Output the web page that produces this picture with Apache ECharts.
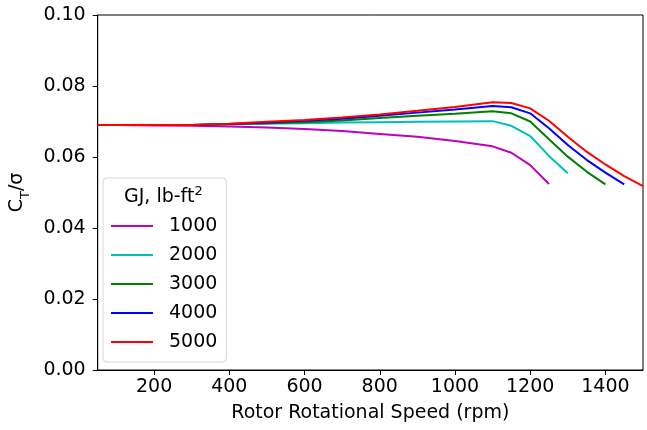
<!DOCTYPE html>
<html lang="en">
<head>
    <meta charset="UTF-8">
    <title>Thrust coefficient vs rotor speed</title>
    <style>
        body { margin: 0; background: #fff; }
        #chart { width: 647px; height: 430px; }
    </style>
</head>
<body>
    <div id="chart"></div>
    <script src="https://cdn.jsdelivr.net/npm/echarts@6/dist/echarts.min.js"></script>
    <script>
        // rotor speed (rpm) and C_T/sigma
        var rpm = [50, 100, 200, 300, 400, 500, 600, 700, 800, 900, 1000, 1100, 1150, 1200, 1250, 1300, 1350, 1400, 1450, 1500];

        var gj1000 = [0.0690, 0.0690, 0.0689, 0.0688, 0.0686, 0.0683, 0.0679, 0.0673, 0.0665, 0.0657, 0.0645, 0.0630, 0.0612, 0.0577, 0.0524];
        var gj2000 = [0.0690, 0.0690, 0.0690, 0.0690, 0.0692, 0.0694, 0.0695, 0.0697, 0.0698, 0.0699, 0.0700, 0.0701, 0.0688, 0.0659, 0.0603, 0.0554];
        var gj3000 = [0.0690, 0.0690, 0.0690, 0.0690, 0.0692, 0.0695, 0.0698, 0.0703, 0.0710, 0.0716, 0.0722, 0.0729, 0.0723, 0.0700, 0.0650, 0.0601, 0.0559, 0.0523];
        var gj4000 = [0.0690, 0.0690, 0.0690, 0.0690, 0.0693, 0.0697, 0.0702, 0.0708, 0.0716, 0.0725, 0.0734, 0.0744, 0.0740, 0.0723, 0.0681, 0.0634, 0.0592, 0.0556, 0.0523];
        var gj5000 = [0.0690, 0.0690, 0.0690, 0.0690, 0.0694, 0.0699, 0.0704, 0.0711, 0.0720, 0.0730, 0.0741, 0.0754, 0.0752, 0.0737, 0.0702, 0.0657, 0.0615, 0.0579, 0.0546, 0.0518];

        var xTicks = [200, 400, 600, 800, 1000, 1200, 1400];
        var names = ['1000', '2000', '3000', '4000', '5000'];
        var colors = ['#bf00bf', '#00bfbf', '#008000', '#0000ff', '#ff0000'];
        var values = [gj1000, gj2000, gj3000, gj4000, gj5000];

        var font = 'DejaVu Sans';
        var fs = 19;

        function pairs(ys) {
            var out = [];
            for (var i = 0; i < ys.length; i++) {
                out.push([rpm[i], ys[i]]);
            }
            return out;
        }

        var series = names.map(function(n, i) {
            return {
                name: n,
                type: 'line',
                data: pairs(values[i]),
                showSymbol: false,
                lineStyle: { color: colors[i], width: 2 },
                itemStyle: { color: colors[i] },
                z: 2 + i
            };
        });

        var chart = echarts.init(document.getElementById('chart'));

        var option = {
            animation: false,
            backgroundColor: '#fff',
            grid: {
                left: 94,
                right: 4,
                top: 15,
                bottom: 60,
                show: true,
                borderColor: '#000',
                borderWidth: 1
            },
            xAxis: {
                type: 'value',
                min: 50,
                max: 1500,
                name: 'Rotor Rotational Speed (rpm)',
                nameLocation: 'middle',
                nameGap: 34,
                nameTextStyle: { color: '#000', fontSize: fs, fontFamily: font },
                axisLine: { show: true, lineStyle: { color: '#000', width: 1 } },
                axisTick: { show: true, length: 5, lineStyle: { color: '#000' }, customValues: xTicks },
                axisLabel: {
                    color: '#000', fontSize: fs, fontFamily: font, margin: 8,
                    customValues: xTicks,
                    formatter: function(v) { return String(v); }
                },
                splitLine: { show: false }
            },
            yAxis: {
                type: 'value',
                min: 0,
                max: 0.1,
                interval: 0.02,
                name: '{a|C}{s|T}{a|/σ}',
                nameLocation: 'middle',
                nameRotate: 90,
                nameGap: 66,
                nameTextStyle: {
                    color: '#000', fontFamily: font,
                    rich: {
                        a: { fontSize: fs, fontFamily: font, color: '#000', lineHeight: 22, verticalAlign: 'middle' },
                        s: { fontSize: 13, fontFamily: font, color: '#000', lineHeight: 22, verticalAlign: 'bottom', padding: [0, 0, -4, 0] }
                    }
                },
                axisLine: { show: true, lineStyle: { color: '#000', width: 1 } },
                axisTick: { show: true, length: 5, lineStyle: { color: '#000' } },
                axisLabel: {
                    color: '#000', fontSize: fs, fontFamily: font, margin: 12,
                    formatter: function(v) { return v.toFixed(2); }
                },
                splitLine: { show: false }
            },
            legend: {
                orient: 'vertical',
                left: 103,
                top: 178,
                data: names,
                icon: 'rect',
                itemWidth: 42,
                itemHeight: 2,
                itemGap: 9,
                padding: [38, 9, 10, 8],
                backgroundColor: '#fff',
                borderColor: '#d6d6d6',
                borderWidth: 1,
                borderRadius: 4,
                textStyle: {
                    color: '#000', fontSize: fs, fontFamily: font,
                    lineHeight: 20, padding: [0, 0, 0, 11]
                },
                z: 10
            },
            graphic: [{
                type: 'text',
                x: 124,
                y: 197,
                z: 20,
                style: {
                    text: '{a|GJ, lb-ft}{b|2}',
                    fill: '#000',
                    align: 'left',
                    verticalAlign: 'middle',
                    rich: {
                        a: { fontSize: fs, fontFamily: font, fill: '#000', lineHeight: 24, verticalAlign: 'middle' },
                        b: { fontSize: 13, fontFamily: font, fill: '#000', lineHeight: 24, verticalAlign: 'top' }
                    }
                }
            }],
            series: series
        };

        chart.setOption(option);
    </script>
</body>
</html>
